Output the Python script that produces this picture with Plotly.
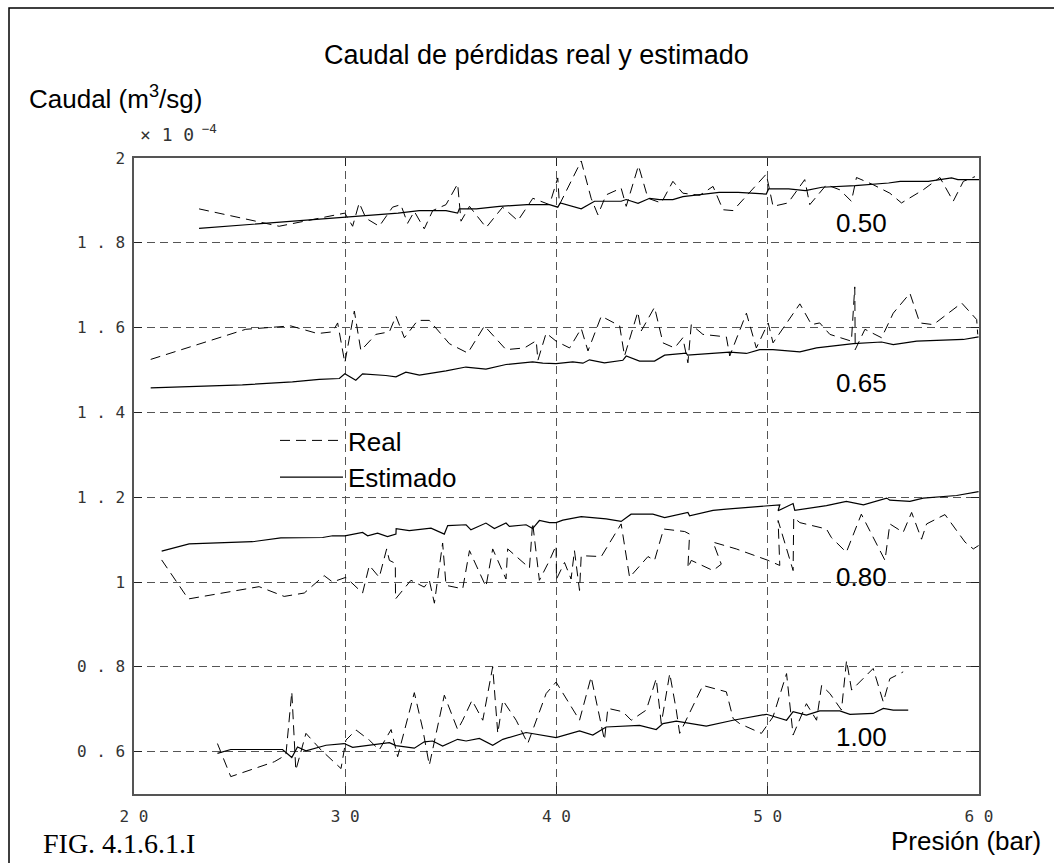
import plotly.graph_objects as go

# ---------------- data (caudal in units of 1e-4 m3/s) ----------------
# 0.50
p_real_050 = [23.08, 26.87, 29.98, 30.35, 30.66, 30.98, 31.61, 32.24, 32.63, 32.95, 33.27, 33.74, 34.14, 34.77,
              35.32, 35.48, 35.88, 36.67, 37.45, 38.17, 38.88, 39.67, 40.06, 40.14, 41.17, 41.64, 41.96, 42.35,
              43.06, 43.30, 43.88, 44.33, 44.96, 45.51, 45.98, 46.78, 47.41, 47.88, 48.36, 49.30, 49.93, 50.25,
              50.96, 51.75, 51.99, 52.78, 53.41, 53.96, 54.20, 54.99, 55.78, 56.33, 57.36, 58.15, 58.78, 59.26, 59.81]
q_real_050 = [1.880, 1.839, 1.870, 1.839, 1.894, 1.858, 1.839, 1.884, 1.890, 1.846, 1.874, 1.833, 1.876, 1.890,
              1.939, 1.851, 1.886, 1.836, 1.884, 1.852, 1.905, 1.890, 1.953, 1.890, 1.993, 1.905, 1.866, 1.913,
              1.929, 1.886, 1.982, 1.905, 1.894, 1.945, 1.917, 1.912, 1.933, 1.878, 1.876, 1.929, 1.962, 1.886,
              1.894, 1.949, 1.890, 1.937, 1.925, 1.898, 1.954, 1.937, 1.917, 1.894, 1.925, 1.954, 1.898, 1.945, 1.956]
p_est_050 = [23.08, 29.98, 30.35, 31.61, 32.50, 33.50, 34.14, 34.77, 35.32, 35.40, 36.20, 37.30, 38.60, 39.67,
             40.06, 40.18, 41.17, 41.80, 43.06, 43.30, 43.86, 44.41, 44.88, 45.51, 45.98, 47.70, 48.60, 49.93,
             50.04, 50.99, 51.78, 52.57, 54.14, 55.72, 56.27, 57.60, 58.70, 59.00, 60.00]
q_est_050 = [1.834, 1.860, 1.862, 1.865, 1.870, 1.876, 1.876, 1.876, 1.870, 1.880, 1.880, 1.886, 1.890, 1.890,
             1.884, 1.894, 1.880, 1.898, 1.898, 1.902, 1.893, 1.905, 1.902, 1.902, 1.909, 1.919, 1.919, 1.915,
             1.927, 1.927, 1.923, 1.931, 1.935, 1.941, 1.945, 1.945, 1.953, 1.949, 1.949]

# 0.65
p_real_065 = [20.79, 25.29, 27.42, 28.69, 29.40, 29.64, 29.98, 30.43, 30.74, 31.45, 32.09, 32.40, 32.80, 33.43,
              33.98, 34.93, 35.80, 36.59, 37.61, 38.48, 39.04, 39.12, 39.51, 39.98, 40.62, 41.17, 41.49, 42.12,
              42.99, 43.22, 43.85, 44.01, 44.64, 45.04, 45.59, 45.98, 46.22, 46.38, 46.93, 48.04, 48.20, 48.99,
              49.46, 50.02, 50.25, 51.04, 51.52, 52.07, 52.46, 52.94, 53.96, 54.12, 54.14, 54.60, 55.39, 55.94,
              56.73, 57.20, 57.84, 59.18, 59.89, 59.94]
q_real_065 = [1.525, 1.596, 1.604, 1.586, 1.590, 1.611, 1.517, 1.639, 1.546, 1.584, 1.590, 1.627, 1.576, 1.617,
              1.617, 1.562, 1.540, 1.604, 1.548, 1.552, 1.569, 1.523, 1.587, 1.568, 1.552, 1.598, 1.545, 1.627,
              1.604, 1.533, 1.637, 1.592, 1.648, 1.564, 1.552, 1.576, 1.517, 1.607, 1.584, 1.578, 1.533, 1.634,
              1.552, 1.611, 1.564, 1.623, 1.656, 1.607, 1.611, 1.584, 1.568, 1.696, 1.548, 1.596, 1.576, 1.634,
              1.681, 1.611, 1.607, 1.658, 1.619, 1.584]
p_est_065 = [20.79, 25.13, 27.50, 28.77, 29.72, 29.98, 30.50, 30.82, 31.92, 32.40, 32.87, 33.51, 34.77, 35.71,
             36.66, 37.61, 38.87, 39.35, 39.98, 40.77, 41.25, 41.56, 42.27, 43.14, 43.30, 43.93, 44.64, 45.12,
             46.14, 46.20, 48.20, 48.99, 49.62, 50.25, 51.52, 52.31, 54.05, 55.39, 55.94, 57.05, 59.26, 59.98]
q_est_065 = [1.458, 1.465, 1.472, 1.478, 1.480, 1.491, 1.476, 1.491, 1.487, 1.484, 1.495, 1.488, 1.498, 1.507,
             1.502, 1.513, 1.519, 1.516, 1.515, 1.519, 1.516, 1.524, 1.517, 1.523, 1.533, 1.521, 1.521, 1.535,
             1.540, 1.535, 1.542, 1.539, 1.548, 1.548, 1.543, 1.552, 1.562, 1.566, 1.560, 1.568, 1.572, 1.578]

# 0.80
p_real_080 = [21.31, 22.57, 25.92, 27.11, 28.06, 29.00, 29.40, 30.03, 30.82, 31.14, 31.61, 31.96, 32.09, 32.37,
              32.38, 33.11, 33.74, 33.98, 34.22, 34.61, 34.77, 35.56, 35.88, 36.66, 36.98, 37.61, 37.69, 38.72,
              38.87, 39.19, 39.67, 39.98, 40.00, 40.38, 40.69, 40.85, 41.09, 41.17, 42.12, 43.06, 43.46, 44.33,
              44.64, 45.07, 46.07, 46.30, 46.22, 46.38, 47.41, 47.80, 47.41, 48.51, 50.02, 50.57, 50.49, 51.20,
              51.23, 51.52, 52.78, 53.01, 53.72, 54.43, 55.55, 55.78, 56.41, 56.81, 57.28, 57.52, 58.39, 59.34,
              59.73, 59.98]
q_real_080 = [1.052, 0.960, 0.989, 0.966, 0.974, 1.015, 1.000, 1.011, 0.974, 1.039, 1.011, 1.078, 1.051, 1.044,
              0.960, 1.004, 0.988, 1.004, 0.950, 1.092, 0.992, 0.984, 1.074, 0.989, 1.078, 1.007, 1.078, 1.033,
              1.140, 1.004, 1.051, 1.086, 1.007, 1.046, 1.007, 1.074, 0.980, 1.062, 1.060, 1.137, 1.011, 1.060,
              1.051, 1.125, 1.119, 1.113, 1.033, 1.051, 1.027, 1.042, 1.094, 1.078, 1.051, 1.039, 1.145, 1.027,
              1.152, 1.140, 1.125, 1.105, 1.070, 1.160, 1.051, 1.137, 1.117, 1.164, 1.101, 1.137, 1.159, 1.094,
              1.078, 1.086]
p_est_080 = [21.31, 22.61, 25.61, 26.95, 28.93, 29.40, 29.98, 30.82, 31.06, 31.53, 32.00, 32.40, 32.41, 33.03,
             34.06, 34.69, 34.85, 35.72, 35.95, 36.66, 37.06, 37.61, 37.77, 38.56, 38.87, 39.19, 39.67, 39.98,
             40.30, 41.17, 42.35, 43.06, 43.53, 44.56, 45.12, 46.22, 46.30, 47.41, 48.04, 50.57, 50.49, 51.20,
             51.28, 52.78, 53.72, 54.53, 55.63, 55.78, 56.73, 57.36, 58.94, 59.98]
q_est_080 = [1.073, 1.090, 1.095, 1.104, 1.105, 1.109, 1.109, 1.117, 1.109, 1.115, 1.107, 1.113, 1.126, 1.121,
             1.127, 1.113, 1.133, 1.135, 1.123, 1.139, 1.126, 1.139, 1.131, 1.135, 1.126, 1.145, 1.140, 1.140,
             1.146, 1.154, 1.149, 1.143, 1.160, 1.160, 1.152, 1.164, 1.156, 1.169, 1.172, 1.182, 1.168, 1.185,
             1.169, 1.180, 1.190, 1.182, 1.198, 1.193, 1.190, 1.198, 1.204, 1.213]

# 1.00
p_real_100 = [23.95, 24.58, 26.64, 27.19, 27.47, 27.66, 28.14, 28.85, 29.80, 30.03, 30.51, 31.14, 31.61, 32.17,
              32.48, 33.27, 33.66, 33.98, 34.69, 35.32, 35.56, 36.00, 36.51, 36.98, 37.22, 37.46, 38.09, 38.64,
              39.51, 39.98, 41.09, 41.64, 42.27, 42.43, 43.14, 43.54, 44.25, 44.72, 44.96, 45.36, 45.67, 45.83,
              46.93, 48.04, 48.36, 48.67, 49.70, 50.25, 50.89, 51.20, 51.83, 52.31, 52.55, 52.94, 53.49, 53.73,
              53.97, 54.99, 55.47, 55.78, 56.41]
q_real_100 = [0.619, 0.541, 0.576, 0.592, 0.741, 0.556, 0.643, 0.604, 0.560, 0.627, 0.651, 0.627, 0.604, 0.652,
              0.588, 0.739, 0.655, 0.568, 0.733, 0.652, 0.674, 0.721, 0.674, 0.800, 0.643, 0.721, 0.674, 0.619,
              0.737, 0.764, 0.674, 0.776, 0.627, 0.702, 0.694, 0.674, 0.698, 0.772, 0.666, 0.784, 0.698, 0.643,
              0.756, 0.741, 0.678, 0.666, 0.643, 0.682, 0.784, 0.639, 0.713, 0.674, 0.756, 0.737, 0.698, 0.815,
              0.745, 0.796, 0.717, 0.772, 0.788]
p_est_100 = [23.95, 24.58, 27.03, 27.47, 27.74, 28.14, 29.09, 29.95, 30.35, 31.45, 32.09, 32.40, 33.27, 33.74,
             34.14, 34.61, 35.32, 35.72, 36.35, 36.98, 37.46, 38.56, 39.67, 39.98, 41.09, 41.72, 42.35, 43.14,
             43.93, 44.72, 45.04, 45.67, 47.09, 48.36, 49.94, 50.89, 51.20, 51.83, 52.46, 53.41, 53.89, 54.99,
             55.47, 55.94, 56.65]
q_est_100 = [0.596, 0.605, 0.605, 0.586, 0.611, 0.602, 0.615, 0.619, 0.610, 0.617, 0.621, 0.614, 0.608, 0.623,
             0.625, 0.613, 0.629, 0.625, 0.631, 0.615, 0.629, 0.645, 0.635, 0.633, 0.649, 0.639, 0.658, 0.660,
             0.662, 0.652, 0.666, 0.672, 0.660, 0.674, 0.688, 0.674, 0.694, 0.686, 0.696, 0.696, 0.688, 0.690,
             0.702, 0.698, 0.698]

series_labels = ["0.50", "0.65", "0.80", "1.00"]
label_x = [54.45, 54.45, 54.45, 54.45]
label_y = [1.846, 1.469, 1.011, 0.634]

x_ticks = [20, 30, 40, 50, 60]
x_ticktext = ["2\u20090", "3\u20090", "4\u20090", "5\u20090", "6\u20090"]
y_ticks = [0.6, 0.8, 1.0, 1.2, 1.4, 1.6, 1.8, 2.0]
y_ticktext = ["0\u2009.\u20096", "0\u2009.\u20098", "1", "1\u2009.\u20092", "1\u2009.\u20094",
              "1\u2009.\u20096", "1\u2009.\u20098", "2"]

# ---------------- figure ----------------
W, H = 1054, 863
L, R, T, B = 134, 75, 158, 69
pw, ph = W - L - R, H - T - B


def px(x):
    return (x - L) / pw


def py(y):
    return (H - B - y) / ph


SANS = "Liberation Sans, Arial, sans-serif"
TICKF = dict(family="DejaVu Sans Mono, monospace", size=16, color="#333333")

fig = go.Figure()

pairs = [
    (p_real_050, q_real_050, p_est_050, q_est_050),
    (p_real_065, q_real_065, p_est_065, q_est_065),
    (p_real_080, q_real_080, p_est_080, q_est_080),
    (p_real_100, q_real_100, p_est_100, q_est_100),
]
for i, (pr, qr, pe, qe) in enumerate(pairs):
    fig.add_trace(go.Scatter(x=pr, y=qr, mode="lines", name="Real",
                             line=dict(color="black", width=1, dash="10px,6px"),
                             legendgroup="real", showlegend=(i == 0)))
    fig.add_trace(go.Scatter(x=pe, y=qe, mode="lines", name="Estimado",
                             line=dict(color="black", width=1.2),
                             legendgroup="est", showlegend=(i == 0)))

for t, lx, ly in zip(series_labels, label_x, label_y):
    fig.add_annotation(x=lx, y=ly, xref="x", yref="y", text=t, showarrow=False,
                       font=dict(family=SANS, size=26, color="black"),
                       xanchor="center", yanchor="middle")

fig.update_xaxes(range=[20, 60], tickvals=x_ticks, ticktext=x_ticktext,
                 showline=True, linecolor="#555555", linewidth=1.5, mirror="ticks",
                 ticks="inside", ticklen=8, tickcolor="#222222", tickwidth=1.2,
                 showgrid=True, gridcolor="#555555", gridwidth=1, griddash="8px,5px",
                 zeroline=False, tickfont=TICKF, ticklabelstandoff=7)
fig.update_yaxes(range=[0.5, 2.0], tickvals=y_ticks, ticktext=y_ticktext,
                 showline=True, linecolor="#555555", linewidth=1.5, mirror="ticks",
                 ticks="inside", ticklen=8, tickcolor="#222222", tickwidth=1.2,
                 showgrid=True, gridcolor="#555555", gridwidth=1, griddash="8px,5px",
                 zeroline=False, tickfont=TICKF, ticklabelstandoff=4)

annots = [
    dict(text="Caudal de pérdidas real y estimado", x=px(536), y=py(55), xanchor="center",
         font=dict(family=SANS, size=27, color="black")),
    dict(text="Caudal (m<sup>3</sup>/sg)", x=px(27), y=py(97), xanchor="left",
         font=dict(family=SANS, size=26, color="black")),
    dict(text="×\u20091\u20090<sup>\u2009−4</sup>", x=px(138), y=py(133), xanchor="left",
         font=dict(family="DejaVu Sans Mono, monospace", size=18, color="#333333")),
    dict(text="FIG. 4.1.6.1.I", x=px(197), y=py(843), xanchor="right",
         font=dict(family="Liberation Serif, Times New Roman, serif", size=28, color="black")),
    dict(text="Presión (bar)", x=px(1043), y=py(841), xanchor="right",
         font=dict(family=SANS, size=26, color="black")),
]
for a in annots:
    fig.add_annotation(xref="paper", yref="paper", showarrow=False, yanchor="middle", **a)

# outer frame of the figure
fig.add_shape(type="rect", xref="paper", yref="paper",
              x0=px(9), x1=px(1058), y0=py(868), y1=py(8),
              line=dict(color="black", width=1.5), fillcolor="rgba(0,0,0,0)", layer="below")

fig.update_layout(
    width=W, height=H,
    margin=dict(l=L, r=R, t=T, b=B, autoexpand=False),
    paper_bgcolor="white", plot_bgcolor="white",
    showlegend=True,
    legend=dict(x=px(275), y=py(417), xanchor="left", yanchor="top",
                bgcolor="rgba(0,0,0,0)", borderwidth=0, itemwidth=63,
                font=dict(family=SANS, size=26, color="black"), tracegroupgap=0),
)

fig.write_html("out.html")
